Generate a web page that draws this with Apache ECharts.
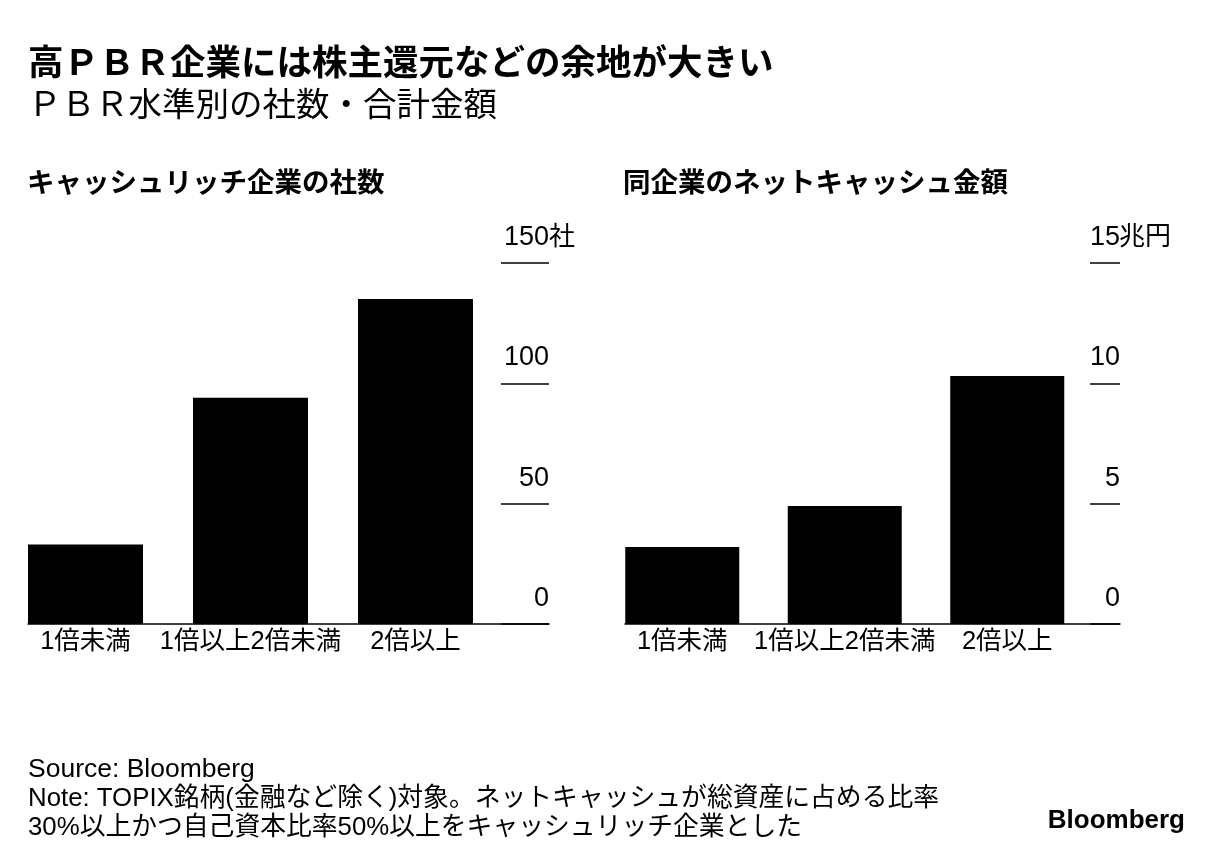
<!DOCTYPE html>
<html><head><meta charset="utf-8">
<script src="https://cdn.jsdelivr.net/npm/echarts@6/dist/echarts.min.js"></script>
<style>html,body{margin:0;padding:0;background:#fff}#c{width:1223px;height:866px}</style>
</head><body><div id="c"></div>
<script>
const categories = ['1倍未満', '1倍以上2倍未満', '2倍以上'];
const companyCounts = [33, 94, 135];
const netCash = [3.2, 4.9, 10.3];
const countTicks = { min: 0, max: 150, interval: 50, unit: '社' };
const cashTicks = { min: 0, max: 15, interval: 5, unit: '兆円' };

const FONT = '"Liberation Sans", "Noto Sans CJK JP", sans-serif';
const JP = '"Noto Sans CJK JP", sans-serif';
const chart = echarts.init(document.getElementById('c'));

const gTop = 263, gH = 361;
function barX(gi){ return { type:'category', gridIndex:gi, data:categories,
  axisLine:{show:false}, axisTick:{show:false},
  axisLabel:{color:'#000', fontSize:25.5, fontFamily:FONT, margin:5, interval:0} }; }
function lineX(gi){ return { type:'value', gridIndex:gi, min:0, max:1,
  axisLine:{show:true, onZero:false, lineStyle:{color:'#000', width:1.5}}, axisTick:{show:false},
  axisLabel:{show:false}, splitLine:{show:false} }; }
function hiddenY(gi, t){ return { type:'value', gridIndex:gi, min:t.min, max:t.max, interval:t.interval, show:false }; }
function shownY(gi, t, tickLen){ return { type:'value', gridIndex:gi, position:'right',
  min:t.min, max:t.max, interval:t.interval,
  axisLine:{show:false, onZero:false}, splitLine:{show:false},
  axisTick:{show:true, inside:true, length:tickLen, lineStyle:{color:'#000', width:1.5}},
  axisLabel:{inside:true, margin:0, color:'#000', fontSize:27, fontFamily:FONT,
    verticalAlign:'bottom', padding:[0,0,12,0]} }; }

chart.setOption({
  animation:false,
  backgroundColor:'#fff',
  title:[
    {text:'高ＰＢＲ企業には株主還元などの余地が大きい', left:28, top:44, padding:0,
     textStyle:{fontSize:35.5, fontWeight:'bold', color:'#000', fontFamily:JP}},
    {text:'ＰＢＲ水準別の社数・合計金額', left:28, top:87, padding:0,
     textStyle:{fontSize:33.5, fontWeight:'normal', color:'#000', fontFamily:JP}},
    {text:'キャッシュリッチ企業の社数', left:27, top:168, padding:0,
     textStyle:{fontSize:27.5, fontWeight:'bold', color:'#000', fontFamily:JP}},
    {text:'同企業のネットキャッシュ金額', left:623, top:168, padding:0,
     textStyle:{fontSize:27.5, fontWeight:'bold', color:'#000', fontFamily:JP}}
  ],
  graphic:[
    {type:'text', left:549, top:222, style:{text:countTicks.unit, fontSize:26, fontFamily:JP, fill:'#000'}},
    {type:'text', left:1119, top:222, style:{text:cashTicks.unit, fontSize:26, fontFamily:JP, fill:'#000'}},
    {type:'text', left:28, top:756, style:{text:'Source: Bloomberg', fontSize:26.5, fontFamily:FONT, fill:'#000'}},
    {type:'text', left:28, top:786, style:{text:'Note: TOPIX銘柄(金融など除く)対象。ネットキャッシュが総資産に占める比率', fontSize:25.8, fontFamily:FONT, fill:'#000'}},
    {type:'text', left:28, top:815, style:{text:'30%以上かつ自己資本比率50%以上をキャッシュリッチ企業とした', fontSize:25.8, fontFamily:FONT, fill:'#000'}},
    {type:'text', right:38, top:808, style:{text:'Bloomberg', fontSize:26, fontWeight:'bold', fontFamily:FONT, fill:'#000'}}
  ],
  grid:[
    {left:3, top:gTop, width:495, height:gH},
    {left:28, top:gTop, width:521, height:gH},
    {left:601, top:gTop, width:487.5, height:gH},
    {left:625, top:gTop, width:495, height:gH}
  ],
  xAxis:[barX(0), lineX(1), barX(2), lineX(3)],
  yAxis:[hiddenY(0,countTicks), shownY(1,countTicks,48), hiddenY(2,cashTicks), shownY(3,cashTicks,30)],
  series:[
    {type:'bar', xAxisIndex:0, yAxisIndex:0, data:companyCounts, barWidth:115, itemStyle:{color:'#000'}, z:1},
    {type:'bar', xAxisIndex:2, yAxisIndex:2, data:netCash, barWidth:114, itemStyle:{color:'#000'}, z:1}
  ]
});
</script></body></html>
